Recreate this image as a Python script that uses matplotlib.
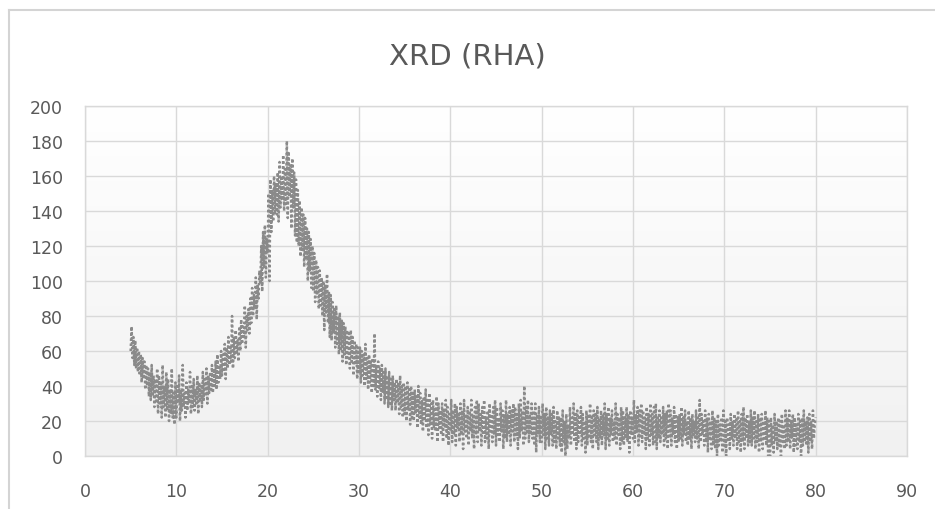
import numpy as np
import matplotlib
matplotlib.use("Agg")
import matplotlib.pyplot as plt
from matplotlib.lines import Line2D

# Diffraction angle (2-theta, degrees), sampled every 0.1 deg from 5 to 80
two_theta_start = 5.0
two_theta_step = 0.1

# Measured intensity (counts) for rice husk ash, one row per degree
intensity = [
    60, 74, 56, 68, 52, 66, 50, 62, 48, 60,
    46, 58, 42, 56, 44, 54, 38, 52, 40, 50,
    34, 48, 32, 52, 34, 46, 28, 44, 30, 50,
    24, 46, 30, 42, 22, 52, 28, 40, 22, 48,
    26, 44, 20, 38, 24, 50, 22, 36, 18, 42,
    22, 40, 30, 46, 20, 38, 26, 52, 28, 36,
    22, 42, 26, 38, 30, 48, 24, 40, 28, 44,
    26, 38, 30, 46, 24, 42, 32, 40, 28, 48,
    32, 44, 34, 50, 30, 46, 36, 48, 38, 52,
    36, 50, 40, 54, 38, 58, 42, 52, 44, 60,
    46, 58, 48, 64, 44, 62, 50, 68, 52, 62,
    54, 80, 50, 68, 56, 72, 58, 66, 54, 74,
    60, 78, 64, 74, 68, 86, 62, 80, 72, 84,
    70, 90, 76, 96, 80, 92, 84, 102, 78, 98,
    90, 106, 98, 120, 94, 128, 108, 132, 102, 124,
    116, 150, 100, 158, 128, 152, 134, 160, 138, 156,
    138, 162, 134, 168, 142, 160, 146, 172, 140, 164,
    144, 180, 136, 174, 148, 166, 130, 170, 142, 162,
    126, 158, 122, 152, 120, 146, 114, 142, 118, 138,
    108, 136, 112, 130, 100, 128, 106, 124, 96, 120,
    94, 116, 88, 112, 92, 108, 84, 106, 86, 102,
    80, 100, 72, 98, 82, 104, 76, 94, 68, 92,
    66, 88, 70, 84, 62, 86, 64, 80, 58, 82,
    60, 78, 54, 76, 58, 74, 52, 72, 56, 70,
    50, 72, 54, 68, 46, 66, 52, 64, 44, 62,
    48, 62, 42, 60, 46, 58, 40, 64, 44, 56,
    38, 58, 42, 54, 36, 56, 40, 70, 38, 52,
    34, 54, 38, 50, 32, 52, 36, 48, 30, 50,
    32, 46, 28, 48, 30, 44, 26, 46, 32, 42,
    26, 44, 30, 42, 24, 46, 28, 40, 22, 42,
    24, 40, 20, 42, 26, 38, 18, 40, 22, 36,
    20, 38, 24, 34, 16, 40, 22, 36, 18, 32,
    14, 34, 20, 38, 16, 32, 12, 36, 18, 30,
    10, 32, 16, 28, 14, 34, 8, 30, 16, 26,
    12, 30, 8, 26, 16, 32, 10, 28, 6, 24,
    14, 32, 8, 26, 12, 30, 6, 28, 16, 24,
    8, 30, 12, 26, 4, 32, 14, 24, 10, 28,
    6, 26, 14, 32, 10, 24, 4, 28, 12, 32,
    8, 30, 14, 24, 6, 28, 12, 32, 8, 22,
    10, 26, 4, 30, 14, 24, 8, 28, 12, 32,
    6, 28, 12, 22, 8, 30, 14, 26, 4, 24,
    10, 32, 8, 24, 12, 28, 6, 26, 14, 30,
    8, 28, 12, 24, 4, 30, 10, 32, 14, 26,
    6, 40, 10, 28, 14, 32, 8, 24, 12, 30,
    10, 26, 6, 30, 2, 24, 12, 28, 8, 22,
    8, 30, 12, 24, 4, 28, 10, 22, 6, 26,
    12, 24, 6, 28, 8, 20, 4, 26, 10, 22,
    6, 22, 2, 26, 8, 20, 0, 24, 4, 18,
    10, 28, 6, 22, 12, 30, 8, 24, 4, 26,
    8, 22, 12, 28, 6, 24, 10, 20, 2, 26,
    6, 24, 10, 30, 8, 22, 4, 26, 12, 24,
    8, 28, 4, 22, 10, 26, 6, 24, 12, 30,
    4, 24, 10, 28, 6, 22, 12, 26, 8, 20,
    10, 30, 6, 24, 12, 22, 4, 28, 8, 26,
    6, 22, 10, 28, 8, 24, 2, 26, 12, 22,
    10, 32, 8, 24, 14, 28, 6, 26, 10, 30,
    8, 26, 12, 22, 4, 28, 10, 24, 6, 30,
    12, 24, 6, 28, 8, 30, 4, 22, 10, 26,
    8, 22, 12, 28, 6, 24, 10, 26, 4, 30,
    10, 26, 6, 22, 12, 28, 8, 24, 4, 22,
    8, 24, 10, 28, 6, 22, 12, 26, 8, 20,
    6, 26, 10, 22, 4, 24, 12, 20, 8, 26,
    10, 22, 4, 32, 8, 24, 12, 20, 6, 26,
    8, 22, 2, 24, 10, 20, 4, 26, 6, 22,
    4, 20, 0, 24, 6, 18, 8, 22, 2, 26,
    6, 20, 0, 22, 8, 18, 4, 24, 10, 20,
    6, 24, 10, 22, 4, 26, 8, 20, 2, 24,
    8, 28, 4, 22, 10, 24, 6, 20, 8, 26,
    6, 22, 10, 26, 4, 20, 8, 24, 2, 22,
    8, 24, 4, 20, 10, 26, 6, 22, 0, 20,
    0, 22, 6, 18, 2, 24, 8, 20, 4, 22,
    6, 20, 0, 24, 8, 18, 4, 26, 6, 22,
    8, 26, 4, 20, 10, 24, 2, 22, 6, 18,
    4, 24, 8, 20, 0, 22, 6, 26, 8, 20,
    6, 22, 2, 24, 8, 20, 4, 26, 10, 18,
    22,
]

x_ticks = list(range(0, 91, 10))
y_ticks = list(range(0, 201, 20))
chart_title = "XRD (RHA)"

two_theta = two_theta_start + two_theta_step * np.arange(len(intensity))

W, H = 935, 510
fig = plt.figure(figsize=(W / 100, H / 100), dpi=100)
fig.patch.set_facecolor("white")

ax = fig.add_axes([85 / W, 1 - 457 / H, (907 - 85) / W, (457 - 107) / H])
ax.set_xlim(0, 90)
ax.set_ylim(0, 200)

# soft vertical gradient behind the plot area
grad = np.linspace(1.0, 0.0, 256).reshape(-1, 1)
top = np.array([1.0, 1.0, 1.0])
bottom = np.array([0.945, 0.945, 0.945])
rgb = bottom + (top - bottom) * grad[..., None]
ax.imshow(rgb, extent=[0, 90, 0, 200], aspect="auto", zorder=0,
          interpolation="bicubic")

grid_col = "#d9d9d9"
ax.set_axisbelow(True)
ax.grid(True, color=grid_col, linewidth=1.0)
for s in ax.spines.values():
    s.set_color(grid_col)
    s.set_linewidth(1.0)

ax.plot(two_theta, intensity, color="#8a8a8a", linewidth=1.8,
        linestyle=(0, (1, 1)), dash_capstyle="butt", zorder=3)

ax.set_xticks(x_ticks)
ax.set_yticks(y_ticks)
ax.tick_params(length=0, labelsize=12.5, labelcolor="#595959")
ax.tick_params(axis="y", pad=16)
ax.tick_params(axis="x", pad=19)

fig.text(0.5, 1 - 57 / H, chart_title, ha="center", va="center",
         fontsize=21, color="#595959")

# chart-area border (top and left edges)
fig.add_artist(Line2D([9 / W, 9 / W], [0, 1 - 11 / H], color="#d4d4d4",
                      linewidth=1.5, transform=fig.transFigure))
fig.add_artist(Line2D([9 / W, 1], [1 - 11 / H, 1 - 11 / H], color="#d4d4d4",
                      linewidth=1.5, transform=fig.transFigure))

fig.savefig("out.png", dpi=100)
